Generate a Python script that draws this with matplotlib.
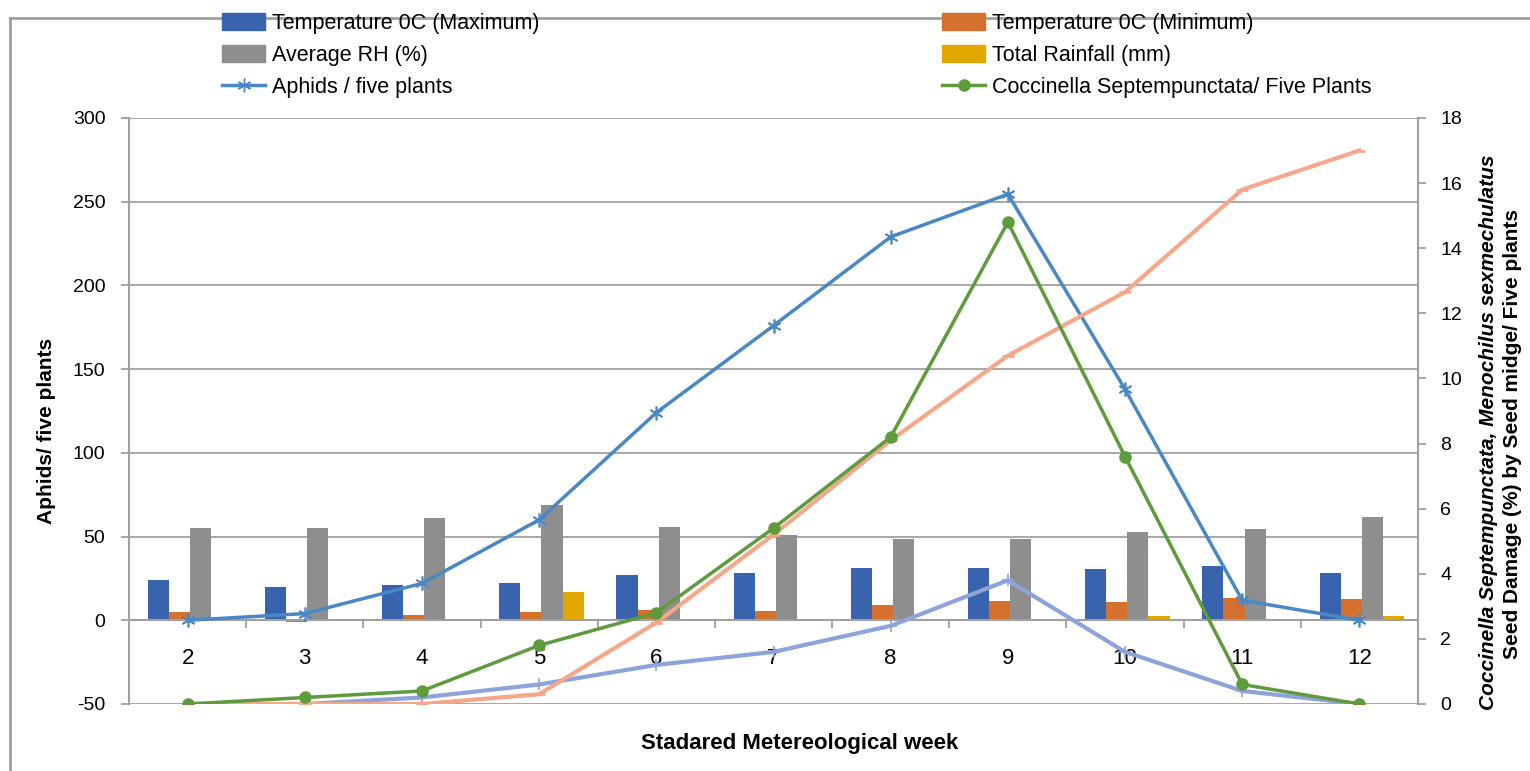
import matplotlib
matplotlib.use("Agg")
import matplotlib.pyplot as plt
import numpy as np
from matplotlib.lines import Line2D
from matplotlib.patches import Patch

plt.rcParams["font.family"] = ["Liberation Sans", "DejaVu Sans"]
plt.rcParams["axes.unicode_minus"] = False

# 数据
weeks = [2, 3, 4, 5, 6, 7, 8, 9, 10, 11, 12]
temp_max = [24, 20, 21, 22, 27, 28, 31.5, 31.5, 30.5, 32.4, 28.3]
temp_min = [5, -1, 3, 5, 6.4, 5.4, 9.4, 11.8, 10.9, 13.3, 12.7]
avg_rh = [55, 55, 61, 69, 56, 51, 48.5, 48.5, 52.6, 54.5, 61.5]
rainfall = [0, 0, 0, 17, 0, 0, 0, 0, 2.4, 1, 2.4]
aphids = [0, 4, 22, 60, 124, 176, 229, 254.5, 138, 12, 0]
coccinella = [0, 0.2, 0.4, 1.8, 2.8, 5.4, 8.2, 14.8, 7.6, 0.6, 0]
menochilus = [0, 0, 0.2, 0.6, 1.2, 1.6, 2.4, 3.8, 1.6, 0.4, 0]
seed_damage = [0, 0, 0, 0.3, 2.5, 5.2, 8.1, 10.7, 12.65, 15.8, 17.0]

bar_series = [
    ("Temperature 0C (Maximum)", temp_max, "#3A63AD"),
    ("Temperature 0C (Minimum)", temp_min, "#D5702D"),
    ("Average RH (%)", avg_rh, "#8E8E8E"),
    ("Total Rainfall (mm)", rainfall, "#E1A800"),
]

C_APHID = "#4A88C4"
C_COCC = "#5F9A3C"
C_MENO = "#8FA3DB"
C_SEED = "#F4A889"
AXC = "#A0A0A0"
STAR = (6, 2, 0)

fig = plt.figure(figsize=(15.3, 7.71), dpi=100)
ax = fig.add_axes([129 / 1530, 1 - 704 / 771, 1289 / 1530, 586 / 771])
ax2 = ax.twinx()

x = np.arange(len(weeks))
w = 0.18
for i, (name, vals, col) in enumerate(bar_series):
    ax.bar(x + (i - 1.5) * w + 0.02, vals, width=w, color=col, zorder=2)

ax.plot(x, aphids, color=C_APHID, lw=2.5, marker=STAR, ms=10, mew=1.2, zorder=4)

ax2.plot(x, menochilus, color=C_MENO, lw=3, marker="+", ms=9, mew=1.2, zorder=3)
ax2.plot(x, seed_damage, color=C_SEED, lw=3, marker="_", ms=8, mew=2, zorder=3)
ax2.plot(x, coccinella, color=C_COCC, lw=2.5, marker="o", ms=8, zorder=4)

ax.set_xlim(-0.5, len(weeks) - 0.5)
ax.set_ylim(-50, 300)
ax.set_yticks(np.arange(-50, 301, 50))
ax2.set_ylim(0, 18)
ax2.set_yticks(np.arange(0, 19, 2))

ax.grid(axis="y", color=AXC, lw=1.3, zorder=0)
ax.set_axisbelow(True)

ax.spines["bottom"].set_position(("data", 0))
for sp in ["left", "bottom"]:
    ax.spines[sp].set_color(AXC)
    ax.spines[sp].set_linewidth(1.5)
ax.spines["top"].set_visible(False)
ax.spines["right"].set_visible(False)
for sp in ["top", "left", "bottom"]:
    ax2.spines[sp].set_visible(False)
ax2.spines["right"].set_color(AXC)
ax2.spines["right"].set_linewidth(1.5)

ax.set_xticks(x)
ax.set_xticklabels([str(wk) for wk in weeks], fontsize=16)
ax.set_xticks(np.arange(0.5, len(weeks) - 1, 1), minor=True)
ax.tick_params(axis="x", which="major", length=0, pad=20)
ax.tick_params(axis="x", which="minor", length=6, color=AXC, width=1.3)
ax.tick_params(axis="y", length=6, color=AXC, width=1.3, labelsize=14, pad=11)
ax2.tick_params(axis="y", length=6, color=AXC, width=1.3, labelsize=14, pad=10)

fig.text(47 / 1530, 1 - 431 / 771, "Aphids/ five plants", rotation=90,
         ha="center", va="center", fontsize=15, fontweight="bold")
fig.text(1489 / 1530, 1 - 432 / 771, "Coccinella Septempunctata, Menochilus sexmechulatus",
         rotation=90, ha="center", va="center", fontsize=15, fontweight="bold", style="italic")
fig.text(1513 / 1530, 1 - 434 / 771, "Seed Damage (%) by Seed midge/ Five plants",
         rotation=90, ha="center", va="center", fontsize=15, fontweight="bold")
fig.text(800 / 1530, 1 - 743 / 771, "Stadared Metereological week", ha="center", va="center",
         fontsize=16, fontweight="bold")

# 图例：两列
left_handles = [
    Patch(color=bar_series[0][2], label=bar_series[0][0]),
    Patch(color=bar_series[2][2], label=bar_series[2][0]),
    Line2D([], [], color=C_APHID, lw=2.5, marker=STAR, ms=10, label="Aphids / five plants"),
]
right_handles = [
    Patch(color=bar_series[1][2], label=bar_series[1][0]),
    Patch(color=bar_series[3][2], label=bar_series[3][0]),
    Line2D([], [], color=C_COCC, lw=2.5, marker="o", ms=8,
           label="Coccinella Septempunctata/ Five Plants"),
]
for hs, x0 in [(left_handles, 222), (right_handles, 942)]:
    fig.legend(handles=hs, loc="upper left", bbox_to_anchor=(x0 / 1530, 1 - 13 / 771),
               frameon=False, borderpad=0, borderaxespad=0, handlelength=2.0,
               handleheight=0.8, handletextpad=0.3, labelspacing=0.5,
               prop={"size": 15.5})

# 外框
fig.add_artist(Line2D([10 / 1530, 10 / 1530], [0, 1 - 18 / 771], color=AXC, lw=2,
                      transform=fig.transFigure))
fig.add_artist(Line2D([10 / 1530, 1], [1 - 18 / 771, 1 - 18 / 771], color=AXC, lw=2,
                      transform=fig.transFigure))

fig.savefig("out.png", dpi=100)
